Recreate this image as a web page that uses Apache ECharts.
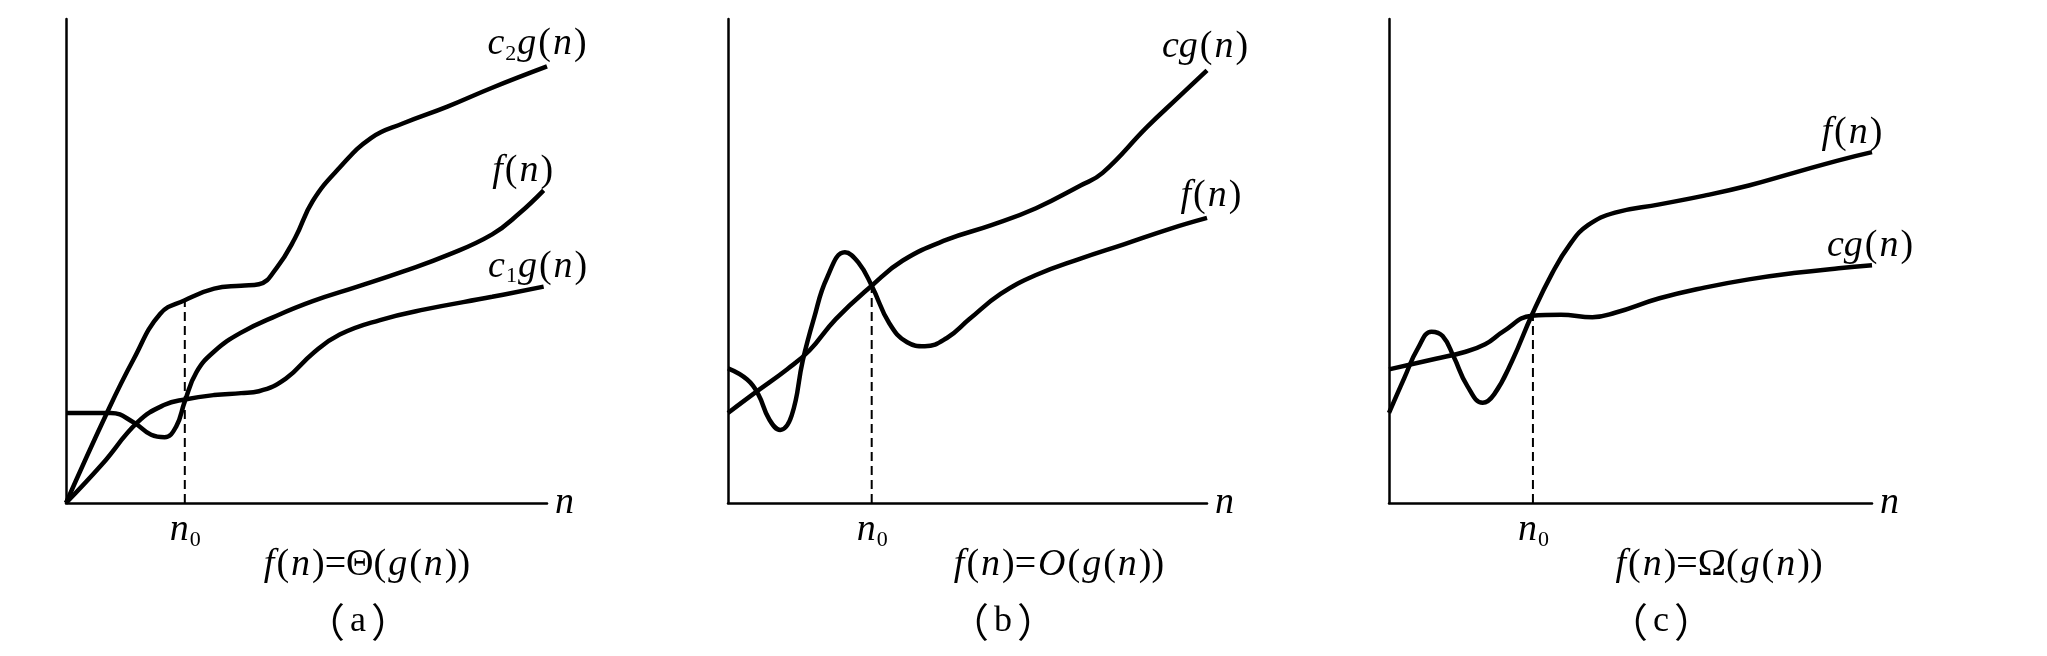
<!DOCTYPE html>
<html>
<head>
<meta charset="utf-8">
<script src="https://cdn.jsdelivr.net/npm/echarts@6/dist/echarts.min.js"></script>
<style>
  html, body { margin: 0; padding: 0; background: #fff; }
  #chart { width: 2047px; height: 656px; }
</style>
</head>
<body>
<div id="chart"></div>
<script>
// 曲线数据, 每个面板横纵坐标都取 0..100
var aC2g = [[0, 0], [8.4, 18.4], [14.0, 29.6], [19.6, 39.1], [24.7, 41.9], [30.8, 44.3], [36.4, 44.9],
    [40.1, 45.2], [43.8, 48.6], [47.6, 54.7], [51.3, 62.4], [56.9, 69.3], [63.4, 75.4], [70.0, 78.4],
    [79.3, 81.9], [88.6, 85.8], [100, 90.2]];
var aF = [[0, 18.6], [9.3, 18.6], [14.0, 16.7], [17.7, 14.1], [20.5, 13.6], [22.9, 15.8], [24.7, 21.0],
    [27.1, 27.0], [30.8, 31.3], [36.4, 35.2], [43.8, 38.7], [51.3, 41.7], [60.6, 44.7], [70.0, 47.8],
    [79.3, 51.2], [88.6, 55.5], [94.2, 59.8], [99.3, 64.6]];
var aC1g = [[0, 0], [7.5, 8.0], [14.9, 16.7], [20.5, 20.3], [24.7, 21.4], [30.8, 22.3], [36.4, 22.7],
    [40.1, 23.1], [45.7, 25.7], [51.3, 30.9], [56.9, 34.8], [65.3, 37.8], [74.6, 40.0], [88.6, 42.6],
    [99.3, 44.7]];
var bCg = [[0, 18.6], [5.8, 22.9], [12.3, 27.6], [17.0, 31.5], [22.5, 38.0], [30.0, 44.9], [36.5, 50.1],
    [45.7, 54.4], [55.0, 57.4], [64.3, 60.9], [73.6, 65.6], [78.2, 68.2], [87.5, 77.7], [94.0, 83.8],
    [100, 89.4]];
var bF = [[0, 27.8], [4.0, 25.5], [6.3, 22.5], [8.6, 17.3], [10.9, 15.1], [13.3, 18.1], [15.6, 29.4],
    [17.9, 38.0], [20.7, 46.6], [24.4, 51.8], [27.2, 49.7], [30.0, 44.9], [33.7, 37.1], [37.4, 33.2],
    [41.1, 32.4], [45.7, 34.1], [50.4, 38.0], [56.9, 43.2], [64.3, 47.1], [73.6, 50.5], [82.8, 53.5],
    [92.1, 56.6], [100, 58.9]];
var cF = [[0, 18.6], [3.2, 25.9], [6.0, 32.0], [8.8, 35.4], [11.1, 34.5], [13.4, 30.2], [16.2, 24.2],
    [19.4, 20.7], [21.8, 22.5], [25.5, 29.4], [29.6, 38.9], [33.8, 47.5], [37.5, 53.5], [41.2, 57.4],
    [46.8, 60.0], [56.0, 61.7], [65.3, 63.5], [74.5, 65.6], [83.8, 68.2], [93.1, 70.8], [100, 72.5]];
var cCg = [[0, 27.6], [9.7, 29.8], [15.3, 31.1], [19.9, 32.8], [23.6, 35.4], [29.6, 38.7], [35.6, 38.9],
    [42.1, 38.4], [46.8, 39.3], [56.0, 42.3], [65.3, 44.5], [74.5, 46.2], [83.8, 47.5], [93.1, 48.5],
    [100, 49.1]];
// n0 的位置和虚线顶端
var n0X = [24.7, 30.0, 29.8];
var n0Top = [41.9, 44.9, 38.8];

var serif = '"Liberation Serif", "DejaVu Serif", serif';
var rich = {
    i: {fontFamily: serif, fontStyle: 'italic', fontSize: 38, color: '#000', padding: [0, 1]},
    r: {fontFamily: serif, fontSize: 38, color: '#000', padding: [0, 1]},
    s: {fontFamily: serif, fontSize: 22, color: '#000', verticalAlign: 'bottom', lineHeight: 42},
    p: {fontFamily: '"Noto Sans CJK SC"', fontSize: 40, color: '#000'},
    t: {fontFamily: serif, fontSize: 36, color: '#000', padding: [0, 5]}
};

var grids = [
    {left: 66, top: 19, width: 481, bottom: 153},
    {left: 728, top: 19, width: 479, bottom: 153},
    {left: 1389, top: 19, width: 483, bottom: 153}
];

var axisLine = {show: true, onZero: false, lineStyle: {color: '#000', width: 2.5}};
var xAxes = [];
var yAxes = [];
grids.forEach(function (g, k) {
    xAxes.push({
        type: 'value', gridIndex: k, min: 0, max: 100,
        axisLine: axisLine, axisTick: {show: false}, axisLabel: {show: false}, splitLine: {show: false},
        name: 'n', nameLocation: 'end', nameGap: 8,
        nameTextStyle: {fontFamily: serif, fontStyle: 'italic', fontSize: 38, color: '#000', verticalAlign: 'middle'}
    });
    yAxes.push({
        type: 'value', gridIndex: k, min: 0, max: 100,
        axisLine: axisLine, axisTick: {show: false}, axisLabel: {show: false}, splitLine: {show: false}
    });
});

// 曲线名字挂在最后一个点上
function curve(k, data, label, offset) {
    return {
        type: 'line', xAxisIndex: k, yAxisIndex: k, data: data,
        smooth: 0.45, showSymbol: false, symbol: 'none', silent: true,
        lineStyle: {color: '#000', width: 4.5},
        markPoint: {
            symbol: 'circle', symbolSize: 0, silent: true,
            label: {show: true, position: 'inside', offset: offset, formatter: label, rich: rich},
            data: [{coord: data[data.length - 1]}]
        }
    };
}

function dashed(k) {
    return {
        type: 'line', xAxisIndex: k, yAxisIndex: k,
        data: [[n0X[k], 0], [n0X[k], n0Top[k]]],
        symbol: 'none', silent: true,
        lineStyle: {color: '#000', width: 2, type: [9, 5]},
        markPoint: {
            symbol: 'circle', symbolSize: 0,
            label: {show: true, position: 'bottom', distance: 6, formatter: '{i|n}{s|0}', rich: rich},
            data: [{coord: [n0X[k], 0]}]
        }
    };
}

var lblC2g = '{i|c}{s|2}{i|g}{r|(}{i|n}{r|)}';
var lblC1g = '{i|c}{s|1}{i|g}{r|(}{i|n}{r|)}';
var lblF = '{i|f}{r|(}{i|n}{r|)}';
var lblCg = '{i|cg}{r|(}{i|n}{r|)}';

var formulas = [
    {x: 367, text: '{i|f}{r|(}{i|n}{r|)=Θ(}{i|g}{r|(}{i|n}{r|))}', cap: 358, capText: '{p|（}{t|a}{p|）}'},
    {x: 1059, text: '{i|f}{r|(}{i|n}{r|)=}{i|O}{r|(}{i|g}{r|(}{i|n}{r|))}', cap: 1003, capText: '{p|（}{t|b}{p|）}'},
    {x: 1719, text: '{i|f}{r|(}{i|n}{r|)=Ω(}{i|g}{r|(}{i|n}{r|))}', cap: 1661, capText: '{p|（}{t|c}{p|）}'}
];
var graphics = [];
formulas.forEach(function (f) {
    graphics.push({
        type: 'text', x: f.x, y: 565,
        style: {text: f.text, rich: rich, align: 'center', verticalAlign: 'middle'}
    });
    graphics.push({
        type: 'text', x: f.cap, y: 622,
        style: {text: f.capText, rich: rich, align: 'center', verticalAlign: 'middle'}
    });
});

var chart = echarts.init(document.getElementById('chart'));
chart.setOption({
    animation: false,
    backgroundColor: '#fff',
    grid: grids,
    xAxis: xAxes,
    yAxis: yAxes,
    graphic: graphics,
    series: [
        curve(0, aC2g, lblC2g, [-10, -22]),
        curve(0, aF, lblF, [-21, -19]),
        curve(0, aC1g, lblC1g, [-6, -20]),
        dashed(0),
        curve(1, bCg, lblCg, [-2, -23]),
        curve(1, bF, lblF, [4, -22]),
        dashed(1),
        curve(2, cF, lblF, [-20, -19]),
        curve(2, cCg, lblCg, [-2, -19]),
        dashed(2)
    ]
});
</script>
</body>
</html>
